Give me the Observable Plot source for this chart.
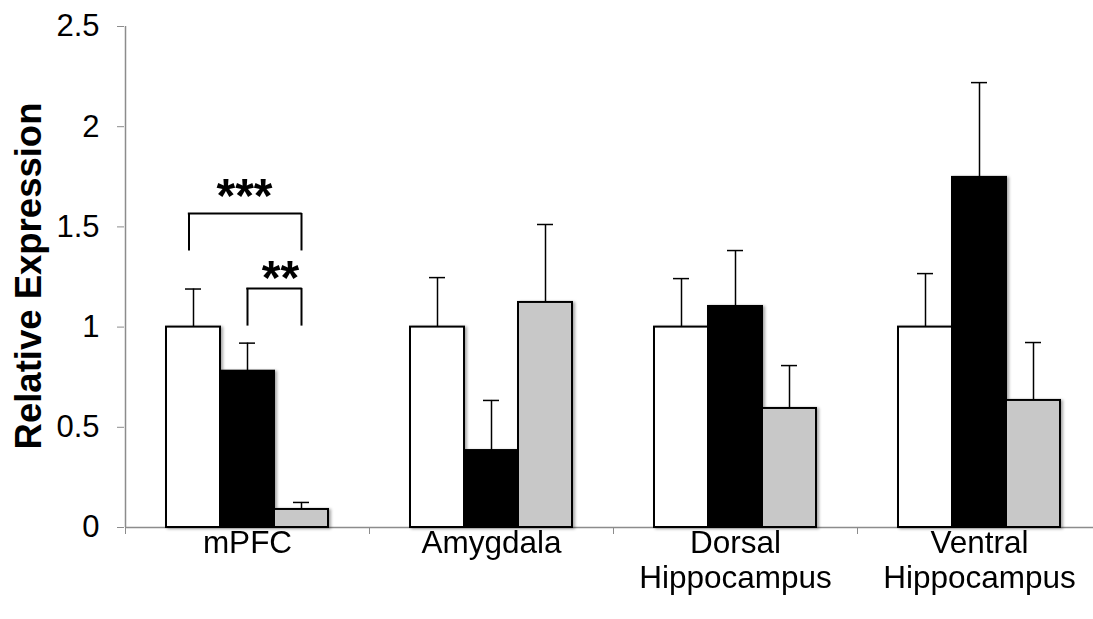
<!DOCTYPE html>
<html>
<head>
<meta charset="utf-8">
<script src="https://cdn.jsdelivr.net/npm/d3@7"></script>
<script src="https://cdn.jsdelivr.net/npm/@observablehq/plot@0.6"></script>
<style>
  html, body { margin: 0; padding: 0; background: #fff; }
  #chart svg { font-family: "Liberation Sans", Arial, sans-serif; }
  #chart g[aria-label="bar"] { filter: drop-shadow(2px 1px 1.5px rgba(0,0,0,0.35)); }
</style>
</head>
<body>
<div id="chart"></div>
<script>
const regions = ["mPFC", "Amygdala", "Dorsal Hippocampus", "Ventral Hippocampus"];
const regionLabels = ["mPFC", "Amygdala", "Dorsal\nHippocampus", "Ventral\nHippocampus"];
const series = ["Group 1", "Group 2", "Group 3"];
const seriesColors = ["#ffffff", "#000000", "#c8c8c8"];
const means1 = [1.0, 1.0, 1.0, 1.0];
const means2 = [0.78, 0.384, 1.103, 1.747];
const means3 = [0.09, 1.123, 0.594, 0.634];
const errs1 = [0.19, 0.247, 0.242, 0.267];
const errs2 = [0.14, 0.25, 0.279, 0.473];
const errs3 = [0.035, 0.389, 0.214, 0.289];
const yTicks = [0, 0.5, 1, 1.5, 2, 2.5];
const yTickLabels = ["0", "0.5", "1", "1.5", "2", "2.5"];
const yTitle = "Relative Expression";
// significance brackets (mPFC)
const bracket1 = {region: "mPFC", s1: "Group 1", s2: "Group 3", low: 1.38, high: 1.567, label: "***", labelAt: "Group 2", labelY: 1.65};
const bracket2 = {region: "mPFC", s1: "Group 2", s2: "Group 3", low: 1.005, high: 1.193, label: "**", labelAt: "Group 3", labelY: 1.243};

const allMeans = [means1, means2, means3];
const allErrs = [errs1, errs2, errs3];
const data = [];
regions.forEach((r, i) => series.forEach((s, j) => {
  data.push({region: r, s, value: allMeans[j][i], err: allErrs[j][i]});
}));

const axisGray = "#8c8c8c";
const halfBar = 27.33;

function bracketMarks(b, leftDx, labelDx) {
  return [
    Plot.ruleX([b], {fx: "region", x: "s1", y1: "low", y2: "high", dx: leftDx, stroke: "#000", strokeWidth: 2}),
    Plot.ruleX([b], {fx: "region", x: "s2", y1: "low", y2: "high", stroke: "#000", strokeWidth: 2}),
    Plot.ruleY([b], {fx: "region", x1: "s1", x2: "s2", y: "high", insetLeft: halfBar + leftDx - 1, insetRight: halfBar - 1, stroke: "#000", strokeWidth: 2}),
    Plot.text([b], {fx: "region", x: "labelAt", y: "labelY", text: "label", dx: labelDx, fontSize: 48, fontWeight: "bold", fill: "#000"})
  ];
}

const chart = Plot.plot({
  width: 1093,
  height: 619,
  marginTop: 26,
  marginBottom: 92,
  marginLeft: 125,
  marginRight: 0,
  style: {fontFamily: "'Liberation Sans', Arial, sans-serif", background: "white"},
  fx: {domain: regions, range: [125, 1101], padding: 0, axis: null},
  x: {domain: series, paddingInner: 0, paddingOuter: 0.7317, axis: null},
  y: {domain: [0, 2.5], axis: null},
  color: {domain: series, range: seriesColors},
  marks: [
    Plot.ruleY([0], {stroke: axisGray, strokeWidth: 1.5}),
    Plot.barY(data, {fx: "region", x: "s", y: "value", fill: "s", stroke: "#000", strokeWidth: 2, inset: 0}),
    Plot.ruleX(data, {fx: "region", x: "s", y1: "value", y2: d => d.value + d.err, stroke: "#000", strokeWidth: 1.5}),
    Plot.tickY(data, {fx: "region", x: "s", y: d => d.value + d.err, stroke: "#000", strokeWidth: 1.5, insetLeft: 19, insetRight: 19}),
    ...bracketMarks(bracket1, -4.5, -3),
    ...bracketMarks(bracket2, 0, -21),
    // y axis line in first facet
    Plot.ruleX([regions[0]], {fx: d => d, x: () => series[0], dx: -68, y1: 0, y2: 2.5, stroke: axisGray, strokeWidth: 1.5}),
    Plot.axisY({
      ticks: yTicks, tickFormat: (d, i) => yTickLabels[i], tickSize: 7, tickPadding: 18,
      fontSize: 31, stroke: axisGray, color: "#000", dx: -1, label: null
    }),
    Plot.text([yTitle], {fx: () => regions[0], y: () => 1.255, frameAnchor: "left", textAnchor: "middle", dx: -96, rotate: -90,
      text: d => d, fontSize: 36.5, fontWeight: "bold", fill: "#000"}),
    Plot.axisFx({anchor: "bottom", tickSize: 0, tickPadding: 0, fontSize: 31.5, lineHeight: 1.13,
      tickFormat: d => regionLabels[regions.indexOf(d)], label: null}),
    Plot.axisFx({anchor: "bottom", tickSize: 7, text: null, dx: -122, stroke: axisGray, label: null})
  ]
});
document.getElementById("chart").appendChild(chart);
</script>
</body>
</html>
